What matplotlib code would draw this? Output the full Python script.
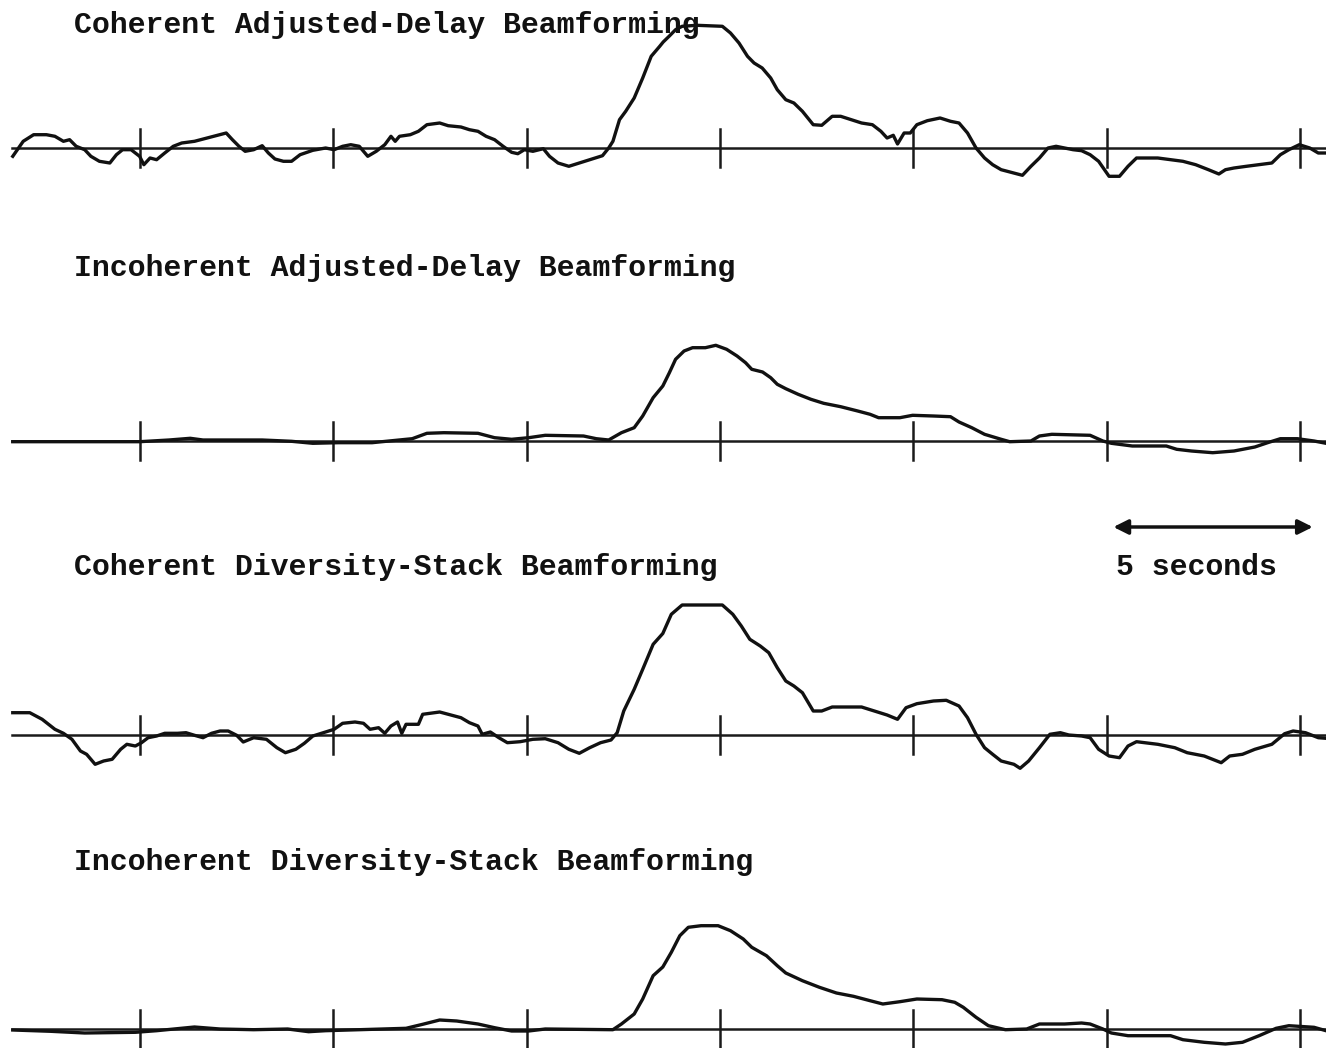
import matplotlib
matplotlib.use("Agg")
import matplotlib.pyplot as plt

# time in seconds, amplitude in relative units (positive = up)
# trace 1: coherent adjusted-delay beamforming
t_cad = [1.71, 1.98, 2.25, 2.58, 2.80, 3.02, 3.18, 3.35, 3.57, 3.73, 3.95, 4.22, 4.39, 4.55, 4.77, 4.99,
         5.10, 5.26, 5.43, 5.64, 5.86, 6.08, 6.41, 6.74, 7.07, 7.23, 7.39, 7.56, 7.72, 7.94, 8.16, 8.32,
         8.49, 8.71, 8.92, 9.14, 9.47, 9.80, 10.02, 10.24, 10.45, 10.67, 10.89, 11.11, 11.33, 11.49, 11.60,
         11.71, 11.99, 12.20, 12.42, 12.75, 12.97, 13.30, 13.52, 13.74, 13.95, 14.17, 14.39, 14.61, 14.77,
         14.94, 15.16, 15.43, 15.59, 15.81, 16.09, 16.36, 16.69, 16.96, 17.12, 17.23, 17.40, 17.56, 17.78,
         18.00, 18.22, 18.44, 18.53, 18.69, 18.85, 19.02, 19.40, 20.06, 20.27, 20.49, 20.71, 20.88, 21.09,
         21.31, 21.48, 21.70, 21.91, 22.13, 22.41, 22.63, 22.90, 23.12, 23.39, 23.66, 23.94, 24.16, 24.32,
         24.48, 24.59, 24.76, 24.92, 25.09, 25.36, 25.69, 25.96, 26.18, 26.40, 26.62, 26.84, 27.05, 27.27,
         27.60, 27.82, 28.04, 28.26, 28.48, 28.69, 28.91, 29.13, 29.35, 29.57, 29.79, 30.06, 30.33, 30.55,
         30.77, 31.32, 31.65, 31.97, 32.30, 32.63, 32.90, 33.07, 33.29, 33.61, 33.94, 34.27, 34.49, 34.71,
         34.98, 35.25, 35.47, 35.67]
a_cad = [-8.3, 6.7, 13.3, 13.3, 11.7, 6.7, 8.3, 1.7, -1.7, -8.3, -13.3, -15, -6.7, -1.7, -1.7, -8.3,
         -16.7, -10, -11.7, -5, 1.7, 5, 6.7, 10, 13.3, 15, 8.3, 1.7, -3.3, -1.7, 2.3, -5,
         -11, -13.3, -13.3, -6.7, -2.3, 0, -1.7, 1.7, 3.3, 1.7, -8.3, -3.3, 3.3, 11.7, 6.7,
         11.7, 13.3, 16.7, 23.3, 25, 22.3, 21, 18.3, 16.7, 11.7, 8.3, 1.7, -4.3, -5.7,
         -1.7, -3.3, -0.7, -8.3, -15, -18.3, -15, -11, -7.7, 0, 6.7, 28.3, 36.7, 50,
         70, 91.7, 101.7, 106, 112, 118.3, 121.7, 122.7, 121.7, 115, 105, 91.7, 85, 80,
         70, 58.3, 48.3, 45, 36.7, 23.3, 22.7, 31.7, 31.7, 28.3, 25, 23.3, 16.7, 10,
         12.7, 4, 15, 15, 23.3, 27.3, 30, 26.7, 25, 15, 0, -10, -16.7, -21.7,
         -25, -27.3, -18.3, -10, 0, 1.7, 0, -1.7, -2.7, -6.7, -13.3, -28.3, -28.3, -18.3,
         -10, -10, -11.7, -13.3, -16.7, -21.7, -26, -21.7, -20, -18.3, -16.7, -15, -6.7, -1.7,
         3.3, 0, -5, -5]

# trace 2: incoherent adjusted-delay beamforming
t_iad = [1.71, 4.99, 5.75, 6.30, 6.63, 8.16, 8.92, 9.47, 10.13, 11.00, 12.04, 12.42, 12.86, 13.74,
         14.17, 14.61, 15.05, 15.48, 16.47, 16.80, 17.12, 17.45, 17.78, 18.00, 18.27, 18.52, 18.69,
         18.85, 19.07, 19.29, 19.62, 19.89, 20.17, 20.44, 20.66, 20.82, 21.10, 21.31, 21.48, 21.70,
         22.02, 22.35, 22.68, 23.12, 23.56, 23.88, 24.10, 24.65, 24.98, 25.52, 25.96, 26.18, 26.51,
         26.84, 27.27, 27.49, 28.04, 28.26, 28.58, 29.57, 29.90, 30.12, 30.66, 31.54, 31.81, 32.19,
         32.74, 33.29, 33.83, 34.16, 34.49, 34.93, 35.36, 35.67]
a_iad = [-0.7, -0.7, 1, 2.7, 1, 1, -0.3, -2.3, -1.7, -1.7, 2.3, 7.7, 8.3, 7.7,
         3.3, 1.7, 3.3, 5.7, 5, 2.3, 1, 8.3, 13.3, 25, 43.3, 55, 68.3,
         81.7, 90, 93.3, 93.3, 95.7, 91.7, 85, 78.3, 71.7, 69, 63.3, 56.7, 52.3,
         46.7, 41.7, 37.7, 34.3, 30, 26.7, 23.3, 23.3, 25.7, 25, 24.3, 19, 13.3,
         6.7, 1.7, -0.7, 0, 5, 6.7, 5.7, 0, -2.3, -5, -5, -8.3, -10,
         -11.7, -10, -6, -1.7, 2.3, 2.3, 0, -2.3]

# trace 3: coherent diversity-stack beamforming
t_cds = [1.71, 2.15, 2.47, 2.80, 3.02, 3.24, 3.46, 3.62, 3.84, 4.06, 4.28, 4.50, 4.66, 4.88, 5.04,
         5.21, 5.43, 5.64, 5.97, 6.19, 6.41, 6.63, 6.85, 7.07, 7.28, 7.50, 7.67, 7.94, 8.27, 8.54,
         8.76, 9.03, 9.25, 9.47, 9.80, 10.02, 10.24, 10.56, 10.78, 10.95, 11.17, 11.33, 11.49, 11.66,
         11.77, 11.88, 12.20, 12.31, 12.75, 12.97, 13.30, 13.52, 13.74, 13.85, 14.06, 14.28, 14.50,
         14.83, 15.16, 15.48, 15.81, 16.09, 16.36, 16.63, 16.91, 17.18, 17.34, 17.51, 17.78, 18.00,
         18.27, 18.52, 18.74, 19.02, 20.06, 20.33, 20.55, 20.77, 21.04, 21.26, 21.48, 21.70, 21.91,
         22.13, 22.41, 22.63, 22.90, 23.66, 23.99, 24.32, 24.59, 24.81, 25.09, 25.52, 25.85, 26.18,
         26.40, 26.62, 26.84, 27.05, 27.27, 27.60, 27.76, 27.98, 28.26, 28.53, 28.80, 29.02, 29.35,
         29.57, 29.79, 30.06, 30.33, 30.55, 30.77, 31.32, 31.76, 32.08, 32.52, 32.96, 33.18, 33.51,
         33.83, 34.27, 34.60, 34.82, 35.14, 35.47, 35.67]
a_cds = [22.3, 22.3, 15.7, 5.7, 1.7, -4.3, -16, -19.3, -29.3, -26, -24.3, -14.3, -9.3, -11, -7.7,
         -2.7, -1, 1.7, 1.7, 2.3, -0.3, -2.7, 1.7, 4, 4, -0.3, -7, -2.7, -4.3, -12.7,
         -17.7, -14.3, -8.3, -1, 3, 5.7, 11.7, 13, 11.7, 5.7, 7.3, 1.7, 9, 13,
         1.7, 10.7, 10.7, 20.7, 23, 20.7, 17.3, 12.3, 9, 0.7, 3, -2.7, -7.7,
         -6.7, -4.3, -3.7, -7.7, -14.3, -18.3, -12.7, -7.7, -5, 2.3, 24, 45.7, 65.7,
         90.7, 101.5, 120.7, 130, 130, 120.7, 109, 95.7, 89, 82.3, 67.3, 54, 49,
         42.3, 24, 24, 28, 28, 24, 20, 15.7, 27.3, 31.3, 34, 34.7, 29,
         17.3, 0.7, -12.7, -19.3, -26, -29.3, -33.3, -26, -12.7, 0.7, 2.3, 0, -1,
         -2.7, -14.3, -21, -22.7, -11, -6.7, -9.3, -12.7, -17.7, -21, -27.7, -21, -19.3,
         -14.3, -9.3, 1.3, 4, 2.3, -2.7, -3.3]

# trace 4: incoherent diversity-stack beamforming
t_ids = [1.71, 2.69, 3.57, 4.88, 5.43, 6.41, 7.07, 7.94, 8.82, 9.36, 9.80, 10.67, 11.88, 12.31, 12.75,
         13.19, 13.74, 14.17, 14.61, 15.05, 15.48, 17.23, 17.45, 17.78, 18.00, 18.27, 18.52, 18.74,
         18.96, 19.18, 19.51, 19.95, 20.27, 20.60, 20.82, 21.20, 21.48, 21.70, 22.13, 22.57, 23.01,
         23.45, 23.88, 24.21, 24.65, 25.09, 25.74, 26.07, 26.29, 26.62, 26.94, 27.38, 27.93, 28.26,
         28.91, 29.35, 29.57, 29.90, 30.12, 30.55, 31.65, 31.97, 32.52, 33.07, 33.51, 33.94, 34.38,
         34.71, 35.36, 35.67]
a_ids = [-1, -2.3, -4, -3.3, -1.7, 2, 0, -0.7, 0, -2.7, -1.7, -0.7, 0.7, 4.7, 9,
         8, 5, 1.3, -2, -2, 0, -0.7, 5, 15, 30, 53.3, 62, 76.7,
         93.3, 101.7, 103.3, 103.3, 98.3, 90, 81.7, 73.3, 63.3, 56, 48.3, 41.7, 36,
         32.7, 28.3, 25, 27.3, 30, 29.3, 26.7, 21.7, 11.7, 3.3, -0.7, 0, 5,
         5, 6, 5, 0, -4, -6.7, -6.7, -10.7, -13.3, -15, -13.3, -6.7, 0.7,
         3.3, 1.7, -1.7]

titles = ["Coherent Adjusted-Delay Beamforming",
          "Incoherent Adjusted-Delay Beamforming",
          "Coherent Diversity-Stack Beamforming",
          "Incoherent Diversity-Stack Beamforming"]
tick_times = [5, 10, 15, 20, 25, 30, 35]
scale_bar = (30.1, 35.4)   # the "5 seconds" arrow
scale_label = "5 seconds"

traces = [(t_cad, a_cad), (t_iad, a_iad), (t_cds, a_cds), (t_ids, a_ids)]
baselines = [148, 441, 735, 1029]      # vertical placement in figure pixels
title_y = [25, 268, 567, 862]

# typewriter-like lettering of the original report
label_font = dict(fontsize=21.5, family="Liberation Mono", fontweight="bold", color="#111111")

fig = plt.figure(figsize=(13.26, 10.48), dpi=100)
ax = fig.add_axes([0, 0, 1, 1])
ax.set_xlim(1.38, 35.67)
ax.set_ylim(1048, 0)
ax.axis("off")

for (t, a), base, title, ty in zip(traces, baselines, titles, title_y):
    ax.plot([1.7, 35.67], [base, base], color="#1a1a1a", lw=1.8)
    for tt in tick_times:
        ax.plot([tt, tt], [base - 19, base + 19], color="#1a1a1a", lw=1.8)
    ax.plot(t, [base - v for v in a], color="#111111", lw=2.4, solid_joinstyle="round")
    ax.text(3.3, ty, title, va="center", ha="left", **label_font)

ax.annotate("", xy=(scale_bar[0], 527), xytext=(scale_bar[1], 527),
            arrowprops=dict(arrowstyle="<|-|>", color="#111111", lw=2.5, mutation_scale=22))
ax.text(32.31, 567, scale_label, ha="center", va="center", **label_font)

fig.savefig("out.png", dpi=100)
